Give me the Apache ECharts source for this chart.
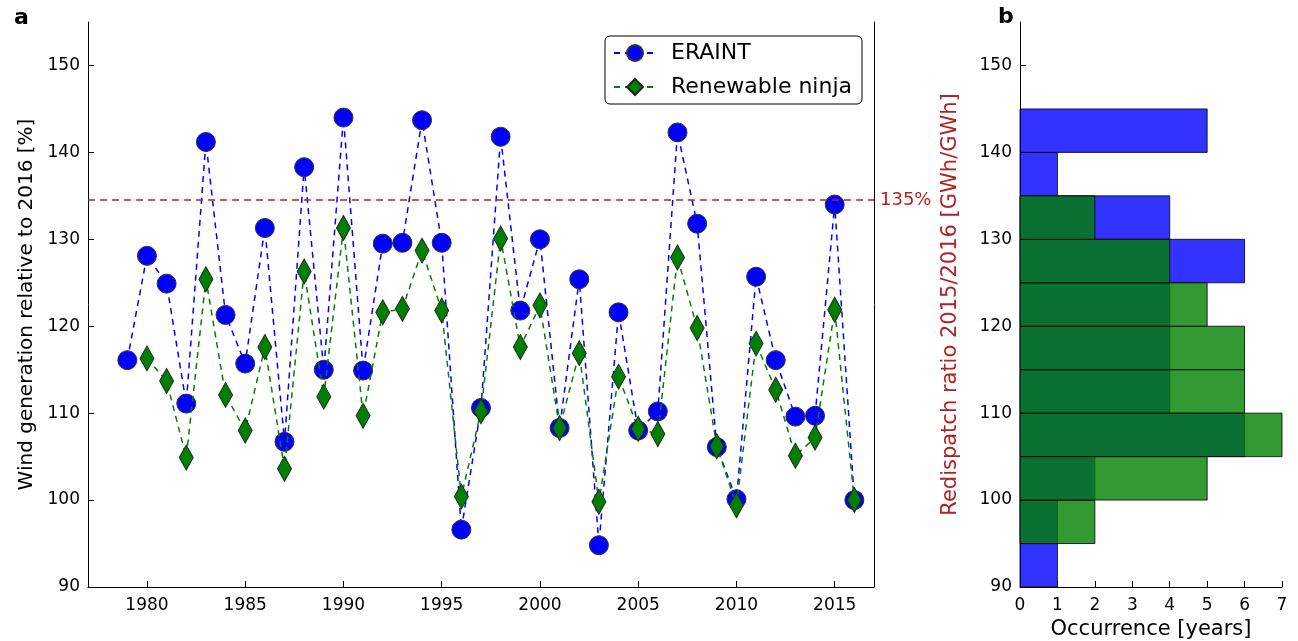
<!DOCTYPE html>
<html>
<head>
<meta charset="utf-8">
<script src="https://cdn.jsdelivr.net/npm/echarts@6/dist/echarts.min.js"></script>
<style>
html, body { margin: 0; padding: 0; background: #fff; }
#chart { width: 1298px; height: 641px; }
</style>
</head>
<body>
<div id="chart"></div>
<script>
var years = [];
for (var y = 1979; y <= 2016; y++) years.push(y);

var eraint = [116.1, 128.1, 124.9, 111.1, 141.2, 121.3, 115.7, 131.3, 106.7, 138.3,
	115.0, 144.0, 114.9, 129.5, 129.6, 143.7, 129.6, 96.6, 110.6, 141.8,
	121.8, 130.0, 108.3, 125.4, 94.8, 121.6, 108.0, 110.2, 142.3, 131.8,
	106.1, 100.1, 125.7, 116.1, 109.6, 109.7, 134.0, 100.0];

// ninja starts at 1980
var ninja = [null, 116.3, 113.7, 104.9, 125.4, 112.1, 108.0, 117.6, 103.6, 126.3,
	111.9, 131.3, 109.7, 121.6, 122.0, 128.7, 121.8, 100.4, 110.2, 130.1,
	117.6, 122.4, 108.3, 116.9, 99.8, 114.2, 108.2, 107.6, 127.9, 119.8,
	106.2, 99.4, 118.0, 112.7, 105.1, 107.2, 121.9, 100.0];

var threshold = 134.5;

var binLow = [90, 95, 100, 105, 110, 115, 120, 125, 130, 135, 140];
var binWidth = 5;
var eraintCounts = [1, 1, 2, 6, 4, 4, 4, 6, 4, 1, 5];
var ninjaCounts = [0, 2, 5, 7, 6, 6, 5, 4, 2, 0, 0];

var yTicks = [90, 100, 110, 120, 130, 140, 150];
var xYearTicks = [1980, 1985, 1990, 1995, 2000, 2005, 2010, 2015];

function pairs(xs, vs) {
	var out = [];
	for (var i = 0; i < xs.length; i++) {
		if (vs[i] != null) out.push([xs[i], vs[i]]);
	}
	return out;
}
function histData(counts) {
	var out = [];
	for (var i = 0; i < binLow.length; i++) {
		out.push([binLow[i], binLow[i] + binWidth, counts[i]]);
	}
	return out;
}
function histRender(fill) {
	return function (params, api) {
		var n = api.value(2);
		if (!n) return null;
		var p0 = api.coord([0, api.value(1)]);
		var p1 = api.coord([n, api.value(0)]);
		return {
			type: 'rect',
			shape: { x: p0[0], y: p0[1], width: p1[0] - p0[0], height: p1[1] - p0[1] },
			style: { fill: fill, stroke: 'rgba(0,0,0,0.8)', lineWidth: 1 }
		};
	};
}

var font = 'DejaVu Sans';
var tickLabel = { color: '#000', fontSize: 17, fontFamily: font };
var darkRed = '#b22222';

var chart = echarts.init(document.getElementById('chart'));
var option = {
	animation: false,
	textStyle: { fontFamily: font },
	title: [
		{ text: 'a', left: 9, top: 2, textStyle: { fontSize: 22, fontWeight: 'bold', color: '#000', fontFamily: font } },
		{ text: 'b', left: 993, top: 1, textStyle: { fontSize: 22, fontWeight: 'bold', color: '#000', fontFamily: font } }
	],
	legend: {
		data: ['ERAINT', 'Renewable ninja'],
		orient: 'vertical',
		right: 436,
		top: 36,
		padding: [6, 10, 6, 8],
		itemGap: 12,
		itemWidth: 42,
		itemHeight: 20,
		borderColor: '#000',
		borderWidth: 1,
		borderRadius: 5,
		backgroundColor: '#fff',
		textStyle: { fontSize: 22, color: '#000', fontFamily: font, padding: [0, 0, 0, 10] }
	},
	grid: [
		{ left: 88, right: 424, top: 22, bottom: 54, outerBoundsMode: 'none' },
		{ left: 1020, right: 16, top: 22, bottom: 54, outerBoundsMode: 'none' }
	],
	xAxis: [ {
		gridIndex: 0,
		type: 'value',
		min: 1977,
		max: 2017,
		axisLine: { show: true, lineStyle: { color: '#000', width: 1 } },
		axisTick: { show: true, inside: true, length: 6, customValues: xYearTicks, lineStyle: { color: '#000' } },
		axisLabel: { show: true, customValues: xYearTicks, margin: 10, formatter: function (v) { return String(v); }, textStyle: tickLabel },
		splitLine: { show: false }
	}, {
		gridIndex: 1,
		type: 'value',
		min: 0,
		max: 7,
		interval: 1,
		name: 'Occurrence [years]',
		nameLocation: 'middle',
		nameGap: 31,
		nameTextStyle: { fontSize: 21, color: '#000', fontFamily: font },
		axisLine: { show: true, lineStyle: { color: '#000', width: 1 } },
		axisTick: { show: true, inside: true, length: 6, lineStyle: { color: '#000' } },
		axisLabel: { show: true, margin: 10, textStyle: tickLabel },
		splitLine: { show: false }
	} ],
	yAxis: [ {
		gridIndex: 0,
		type: 'value',
		min: 90,
		max: 155,
		name: 'Wind generation relative to 2016 [%]',
		nameLocation: 'middle',
		nameGap: 49,
		nameTextStyle: { fontSize: 20, color: '#000', fontFamily: font },
		axisLine: { show: true, lineStyle: { color: '#000', width: 1 } },
		axisTick: { show: true, inside: true, length: 6, customValues: yTicks, lineStyle: { color: '#000' } },
		axisLabel: { show: true, customValues: yTicks, margin: 8, textStyle: tickLabel },
		splitLine: { show: false }
	}, {
		gridIndex: 0,
		type: 'value',
		position: 'right',
		min: 90,
		max: 155,
		name: 'Redispatch ratio 2015/2016 [GWh/GWh]',
		nameLocation: 'middle',
		nameGap: 66,
		nameRotate: 90,
		nameTextStyle: { fontSize: 21, color: darkRed, fontFamily: font },
		axisLine: { show: true, lineStyle: { color: '#000', width: 1 } },
		axisTick: { show: false },
		axisLabel: { show: false },
		splitLine: { show: false }
	}, {
		gridIndex: 1,
		type: 'value',
		min: 90,
		max: 155,
		axisLine: { show: true, lineStyle: { color: '#000', width: 1 } },
		axisTick: { show: true, inside: true, length: 6, customValues: yTicks, lineStyle: { color: '#000' } },
		axisLabel: { show: true, customValues: yTicks, margin: 8, textStyle: tickLabel },
		splitLine: { show: false }
	} ],
	series: [ {
		name: 'ERAINT',
		type: 'line',
		xAxisIndex: 0,
		yAxisIndex: 0,
		data: pairs(years, eraint),
		symbol: 'circle',
		symbolSize: 19,
		lineStyle: { color: '#0000ff', width: 1.5, type: [6, 5] },
		itemStyle: { color: '#0000ff', borderColor: '#333', borderWidth: 1 },
		markLine: {
			silent: true,
			symbol: ['none', 'none'],
			lineStyle: { color: darkRed, width: 1.5, type: [7, 5] },
			label: { show: true, position: 'end', distance: 6, formatter: '135%', color: darkRed, fontSize: 18, fontFamily: font },
			data: [ { yAxis: threshold } ]
		},
		z: 2
	}, {
		name: 'Renewable ninja',
		type: 'line',
		xAxisIndex: 0,
		yAxisIndex: 0,
		data: pairs(years, ninja),
		symbol: 'diamond',
		symbolSize: [14, 25],
		lineStyle: { color: '#008000', width: 1.5, type: [6, 5] },
		itemStyle: { color: '#008000', borderColor: '#222', borderWidth: 1 },
		z: 3
	}, {
		name: 'ERAINT hist',
		type: 'custom',
		xAxisIndex: 1,
		yAxisIndex: 2,
		data: histData(eraintCounts),
		encode: { x: 2, y: [0, 1] },
		renderItem: histRender('rgba(0,0,255,0.8)'),
		z: 2
	}, {
		name: 'Ninja hist',
		type: 'custom',
		xAxisIndex: 1,
		yAxisIndex: 2,
		data: histData(ninjaCounts),
		encode: { x: 2, y: [0, 1] },
		renderItem: histRender('rgba(0,128,0,0.8)'),
		z: 3
	} ]
};
chart.setOption(option);
</script>
</body>
</html>
